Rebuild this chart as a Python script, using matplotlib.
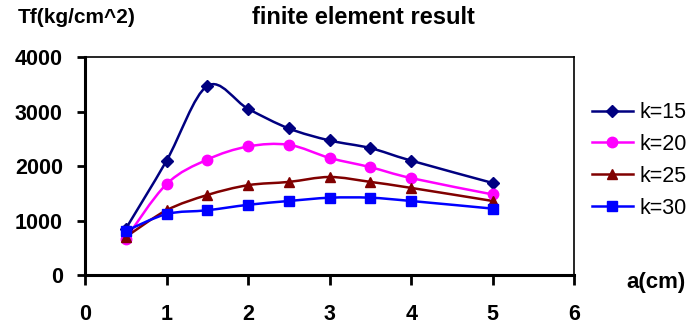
import numpy as np
import matplotlib
matplotlib.use("Agg")
import matplotlib.pyplot as plt
from matplotlib.path import Path
from matplotlib.patches import PathPatch
from matplotlib.lines import Line2D

# data
a_cm = [0.5, 1, 1.5, 2, 2.5, 3, 3.5, 4, 5]
k15 = [850, 2100, 3470, 3050, 2690, 2470, 2330, 2100, 1690]
k20 = [670, 1670, 2120, 2360, 2390, 2150, 1980, 1780, 1480]
k25 = [700, 1190, 1470, 1650, 1710, 1800, 1710, 1600, 1360]
k30 = [810, 1120, 1190, 1290, 1360, 1420, 1420, 1360, 1220]
labels = ["k=15", "k=20", "k=25", "k=30"]
colors = ["#000080", "#FF00FF", "#800000", "#0000FF"]
markers = ["D", "o", "^", "s"]
msizes = [6, 7.5, 7.5, 6.5]

plt.rcParams['font.family'] = ['Liberation Sans', 'DejaVu Sans']


def smooth_path(x, y):
    # excel-like smoothed line: cubic bezier, catmull-rom control points
    p = np.column_stack([x, y]).astype(float)
    verts = [p[0]]
    codes = [Path.MOVETO]
    n = len(p)
    for i in range(n - 1):
        p0 = p[i - 1] if i > 0 else p[i]
        p3 = p[i + 2] if i + 2 < n else p[i + 1]
        c1 = p[i] + (p[i + 1] - p0) / 6.0
        c2 = p[i + 1] - (p3 - p[i]) / 6.0
        verts += [c1, c2, p[i + 1]]
        codes += [Path.CURVE4] * 3
    return Path(verts, codes)


fig = plt.figure(figsize=(6.94, 3.26), dpi=100)
ax = fig.add_axes([0.1225, 0.156, 0.705, 0.669])

handles = []
for ys, lab, c, m, ms in zip([k15, k20, k25, k30], labels, colors, markers, msizes):
    ax.add_patch(PathPatch(smooth_path(a_cm, ys), facecolor='none', edgecolor=c, lw=1.8))
    ax.plot(a_cm, ys, linestyle='none', marker=m, color=c, markersize=ms)
    handles.append(Line2D([], [], color=c, marker=m, lw=1.8, markersize=ms, label=lab))

ax.set_xlim(0, 6)
ax.set_ylim(0, 4000)
ax.set_xticks(range(0, 7))
ax.set_yticks(range(0, 4001, 1000))
for side in ['left', 'bottom']:
    ax.spines[side].set_linewidth(2.2)
for side in ['top', 'right']:
    ax.spines[side].set_linewidth(1.2)
ax.tick_params(axis='y', direction='out', length=6, width=2, labelsize=15.5, pad=10)
ax.tick_params(axis='x', direction='out', length=7, width=2, labelsize=15.5, pad=14)
for t in ax.get_xticklabels() + ax.get_yticklabels():
    t.set_fontweight('bold')

fig.text(0.026, 0.945, "Tf(kg/cm^2)", fontsize=15, fontweight='bold', va='center')
fig.text(0.523, 0.945, "finite element result", fontsize=17, fontweight='bold',
         ha='center', va='center')
fig.text(0.945, 0.132, "a(cm)", fontsize=16, fontweight='bold', ha='center', va='center')

fig.legend(handles=handles, loc='center left', bbox_to_anchor=(0.853, 0.508),
           frameon=False, fontsize=15.5, handlelength=1.9, handletextpad=0.32,
           labelspacing=0.5, borderpad=0, borderaxespad=0)

fig.savefig("out.png", dpi=100)
